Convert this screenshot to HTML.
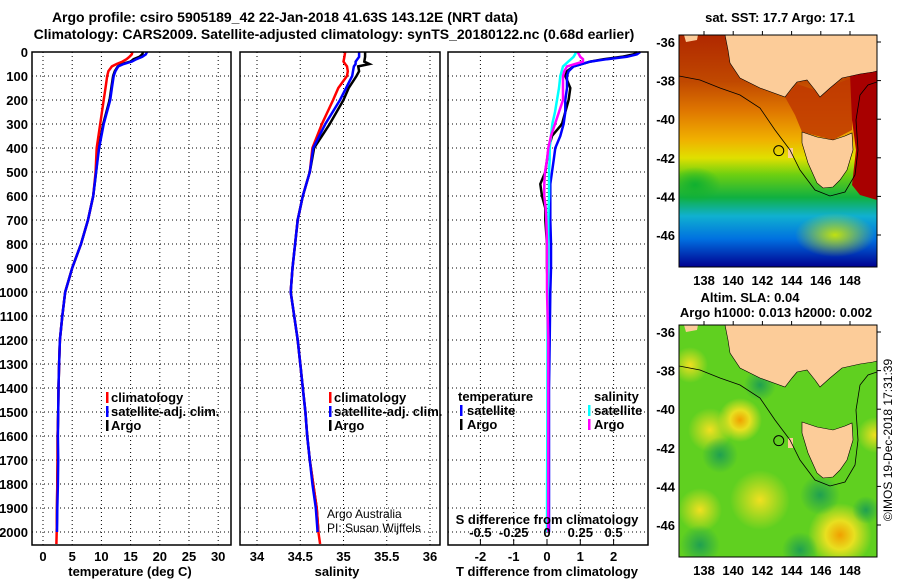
<!DOCTYPE html>
<html><head><meta charset="utf-8">
<style>
html,body{margin:0;padding:0;background:#fff;}
svg{display:block;font-family:"Liberation Sans",sans-serif;font-weight:bold;}
text{font-size:13px;fill:#000;}
</style></head>
<body>
<svg id="fig" width="900" height="580" viewBox="0 0 900 580">
<defs>
<linearGradient id="sstg" x1="0" y1="0" x2="0" y2="1">
<stop offset="0" stop-color="#b02800"/><stop offset="0.2" stop-color="#c04800"/>
<stop offset="0.33" stop-color="#e07800"/><stop offset="0.45" stop-color="#f0b000"/>
<stop offset="0.53" stop-color="#e0e000"/><stop offset="0.6" stop-color="#70d010"/>
<stop offset="0.7" stop-color="#10b040"/><stop offset="0.78" stop-color="#10b0d0"/>
<stop offset="0.88" stop-color="#0070e0"/><stop offset="1" stop-color="#000090"/>
</linearGradient>
<radialGradient id="blobY"><stop offset="0" stop-color="#f0a000"/><stop offset="0.45" stop-color="#e8e020"/><stop offset="1" stop-color="#e8e020" stop-opacity="0"/></radialGradient>
<radialGradient id="blobY2"><stop offset="0" stop-color="#f0e020"/><stop offset="1" stop-color="#f0e020" stop-opacity="0"/></radialGradient>
<radialGradient id="blobG"><stop offset="0" stop-color="#20a050"/><stop offset="1" stop-color="#20a050" stop-opacity="0"/></radialGradient>
<radialGradient id="blobYG"><stop offset="0" stop-color="#c0e010"/><stop offset="1" stop-color="#c0e010" stop-opacity="0"/></radialGradient>
<radialGradient id="blobGr"><stop offset="0" stop-color="#10b030"/><stop offset="1" stop-color="#10b030" stop-opacity="0"/></radialGradient>
<clipPath id="c1"><rect x="679" y="35" width="198" height="232"/></clipPath>
<clipPath id="c2"><rect x="679" y="325" width="198" height="232"/></clipPath>
</defs>
<g id="titles">
<text x="285" y="22" text-anchor="middle" style="font-size:14px">Argo profile: csiro 5905189_42 22-Jan-2018 41.63S 143.12E (NRT data)</text>
<text x="334" y="39" text-anchor="middle" style="font-size:14px">Climatology: CARS2009. Satellite-adjusted climatology: synTS_20180122.nc (0.68d earlier)</text>
</g>
<g id="plots"></g>
<g id="maps"></g>
<text transform="translate(892,440) rotate(-90)" text-anchor="middle" style="font-size:12px;font-weight:normal">©IMOS 19-Dec-2018 17:31:39</text>
</svg>
<script>
// ---- data ----
const tempDepth = [0,10,20,30,40,50,60,80,100,150,200,300,400,500,600,700,800,900,1000,1100,1200,1300,1400,1500,1600,1700,1800,1900,2000];
const tempArgo = [17.1,17.0,16.5,15.5,15.0,13.5,12.8,12.3,12.0,11.7,11.4,10.3,9.5,9.1,8.6,7.7,6.5,5.0,3.8,3.3,2.9,2.75,2.65,2.6,2.5,2.5,2.45,2.4,2.35];
const tempSat = [17.8,17.6,17.0,16.0,15.2,13.8,12.9,12.4,12.1,11.8,11.5,10.4,9.6,9.1,8.6,7.7,6.5,5.0,3.8,3.3,2.9,2.75,2.65,2.6,2.55,2.6,2.55,2.45,2.4];
const climDepth = [0,10,20,30,40,50,60,80,100,150,200,300,400,500,600,700,800,900,1000,1100,1200,1300,1400,1500,1600,1700,1800,1900,2000,2050];
const tempClim = [15.3,15.2,14.8,14.3,13.6,12.6,11.8,11.2,11.0,10.7,10.4,9.8,9.2,9.0,8.6,7.7,6.5,5.0,3.8,3.3,2.9,2.75,2.65,2.6,2.5,2.5,2.45,2.4,2.35,2.3];
const salDepth = [0,20,40,50,60,80,100,150,200,300,400,500,600,700,800,900,1000,1100,1200,1300,1400,1500,1600,1700,1800,1900,2000];
const salArgo = [35.25,35.25,35.24,35.3,35.17,35.18,35.15,35.06,35.0,34.84,34.66,34.61,34.53,34.47,34.44,34.41,34.39,34.43,34.47,34.5,34.53,34.56,34.58,34.61,34.65,34.69,34.71];
const salSat = [35.18,35.18,35.14,35.14,35.12,35.11,35.10,35.03,34.96,34.79,34.65,34.61,34.53,34.47,34.44,34.41,34.39,34.43,34.47,34.5,34.53,34.56,34.58,34.61,34.64,34.68,34.7];
const salClimDepth = [0,20,40,50,60,80,100,150,200,300,400,500,600,700,800,900,1000,1100,1200,1300,1400,1500,1600,1700,1800,1900,2000,2050];
const salClim = [35.02,35.01,35.0,35.02,35.04,35.05,35.04,34.94,34.88,34.75,34.64,34.61,34.53,34.47,34.44,34.41,34.39,34.43,34.47,34.5,34.53,34.56,34.58,34.61,34.65,34.69,34.71,34.73];
const diffDepth = [0,10,20,30,40,60,80,100,150,200,250,300,350,400,450,500,550,600,650,700,800,900,1000,1200,1400,1600,1800,2000];
const dTArgo = [2.7,2.6,2.25,1.7,1.3,0.8,0.6,0.55,0.7,0.65,0.55,0.45,0.15,0.05,0,-0.05,-0.2,-0.15,-0.05,-0.05,0,0,0.03,0.05,0.05,0.05,0.05,0.05];
const dTSat = [2.8,2.7,2.4,1.8,1.3,0.8,0.65,0.6,0.6,0.55,0.55,0.5,0.4,0.25,0.2,0.15,0.1,0.1,0.1,0.1,0.12,0.12,0.1,0.08,0.06,0.06,0.06,0.06];
const dSSat = [0.22,0.21,0.2,0.18,0.16,0.12,0.11,0.1,0.09,0.075,0.06,0.04,0.03,0.02,0.02,0.015,0.015,0.015,0.012,0.01,0.01,0.008,0.005,0.004,0.003,0.002,0.001,0.0];
const dSArgo = [0.23,0.24,0.25,0.27,0.27,0.15,0.13,0.12,0.12,0.12,0.09,0.06,0.03,0.01,0,-0.015,-0.02,-0.02,-0.01,-0.005,0,0,0,0.01,0.01,0.01,0.01,0.01];
const depthTicks = [0,100,200,300,400,500,600,700,800,900,1000,1100,1200,1300,1400,1500,1600,1700,1800,1900,2000];
const tempTicks = [0,5,10,15,20,25,30];
const salTicks = [34,34.5,35,35.5,36];
const salTickLabels = ["34","34.5","35","35.5","36"];
const dTTicks = [-2,-1,0,1,2];
const dSTicks = [-0.5,-0.25,0,0.25,0.5];
const dSTickLabels = ["-0.5","-0.25","0","0.25","0.5"];
const latTicks = [-36,-38,-40,-42,-44,-46];
const lonTicks = [138,140,142,144,146,148];
const argoLon = 143.12, argoLat = -41.63;

// ---- scales ----
const Y0 = 52, Y1 = 545;
const yD = d => Y0 + d * 0.24;
const xT = t => 43 + t * 5.84;
const xS = s => 257 + (s - 34) * 86.5;
const xDT = t => 547 + t * 33.3;
const xDS = s => 547 + s * 133.2;
const NS = "http://www.w3.org/2000/svg";
const plots = document.getElementById('plots');
function mk(tag, attrs, parent){const e=document.createElementNS(NS,tag);for(const k in attrs)e.setAttribute(k,attrs[k]);(parent||plots).appendChild(e);return e;}

function panel(name, x0, x1, xticks, xf){
  const g = mk('g',{});
  
  
  depthTicks.forEach(d=>{ const l=mk('line',{x1:x0,x2:x1,y1:yD(d),y2:yD(d),stroke:'#000','stroke-width':1,'stroke-dasharray':'1 3'},g);
    
     });
  xticks.forEach(v=>{ const l=mk('line',{x1:xf(v),x2:xf(v),y1:Y0,y2:Y1,stroke:'#000','stroke-width':1,'stroke-dasharray':'1 3'},g);
    
     });
  return g;
}
function frame(g,x0,x1){const r=mk('rect',{x:x0,y:Y0,width:x1-x0,height:Y1-Y0,fill:'none',stroke:'#000','stroke-width':1.5},g);
  
  }
function line(g, name, depths, vals, xf, color, w){
  const pts = vals.map((v,i)=>xf(v).toFixed(1)+','+yD(depths[i]).toFixed(1)).join(' ');
  const p = mk('polyline',{points:pts,fill:'none',stroke:color,'stroke-width':w||2.5,'stroke-linejoin':'miter'},g);
  
  
}
function txt(g, name, x, y, s, anchor, extra){
  const t = mk('text',Object.assign({x:x,y:y,'text-anchor':anchor||'start'},extra||{}),g);
  t.textContent = s;
  
  
  return t;
}
function legBar(g, x, y, color){const r=mk('rect',{x:x,y:y-10,width:2.5,height:11,fill:color},g);
  
  }

const yl = mk('g',{});


depthTicks.forEach(d=>txt(yl,'depth-tick-label',28,yD(d)+5,String(d),'end'));

const g1 = panel('temperature-panel',32,231,tempTicks,xT);
line(g1,'temp-argo-line',tempDepth,tempArgo,xT,'#000');
line(g1,'temp-clim-line',climDepth,tempClim,xT,'#f00');
line(g1,'temp-sat-line',tempDepth,tempSat,xT,'#00f');
frame(g1,32,231);
tempTicks.forEach(v=>txt(g1,'temp-tick-label',xT(v),561,String(v),'middle'));
txt(g1,'temp-axis-title',130,576,'temperature (deg C)','middle');
legBar(g1,106,402,'#f00'); txt(g1,'legend-climatology',111,402,'climatology');
legBar(g1,106,416,'#00f'); txt(g1,'legend-satellite-adj',111,416,'satellite-adj. clim.');
legBar(g1,106,430,'#000'); txt(g1,'legend-argo',111,430,'Argo');

const g2 = panel('salinity-panel',240,440,salTicks,xS);
line(g2,'sal-argo-line',salDepth,salArgo,xS,'#000');
line(g2,'sal-clim-line',salClimDepth,salClim,xS,'#f00');
line(g2,'sal-sat-line',salDepth,salSat,xS,'#00f');
frame(g2,240,440);
salTicks.forEach((v,i)=>txt(g2,'sal-tick-label',xS(v),561,salTickLabels[i],'middle'));
txt(g2,'sal-axis-title',337,576,'salinity','middle');
legBar(g2,329,402,'#f00'); txt(g2,'legend-climatology',334,402,'climatology');
legBar(g2,329,416,'#00f'); txt(g2,'legend-satellite-adj',334,416,'satellite-adj. clim.');
legBar(g2,329,430,'#000'); txt(g2,'legend-argo',334,430,'Argo');
txt(g2,'credit-argo-australia',327,518,'Argo Australia','start',{style:'font-weight:normal;font-size:12px'});
txt(g2,'credit-pi',327,532,'PI: Susan Wijffels','start',{style:'font-weight:normal;font-size:12px'});

const g3 = panel('difference-panel',448,648,dTTicks,xDT);
line(g3,'dT-argo-line',diffDepth,dTArgo,xDT,'#000');
line(g3,'dT-sat-line',diffDepth,dTSat,xDT,'#00f');
line(g3,'dS-sat-line',diffDepth,dSSat,xDS,'#0ff');
line(g3,'dS-argo-line',diffDepth,dSArgo,xDS,'#f0f');
frame(g3,448,648);
dTTicks.forEach(v=>txt(g3,'dT-tick-label',xDT(v),561,String(v),'middle'));
txt(g3,'dT-axis-title',547,576,'T difference from climatology','middle');
dSTicks.forEach((v,i)=>{txt(g3,'dS-tick-label',xDS(v),537,dSTickLabels[i],'middle');
  const t=mk('line',{x1:xDS(v),x2:xDS(v),y1:Y1-6,y2:Y1,stroke:'#000'},g3);
  
  });
txt(g3,'dS-axis-title',547,524,'S difference from climatology','middle');
txt(g3,'legend-temperature-header',458,401,'temperature');
legBar(g3,460,415,'#00f'); txt(g3,'legend-t-satellite',467,415,'satellite');
legBar(g3,460,429,'#000'); txt(g3,'legend-t-argo',467,429,'Argo');
txt(g3,'legend-salinity-header',594,401,'salinity');
legBar(g3,588,415,'#0ff'); txt(g3,'legend-s-satellite',594,415,'satellite');
legBar(g3,588,429,'#f0f'); txt(g3,'legend-s-argo',594,429,'Argo');

// ---- maps ----
const maps = document.getElementById('maps');
const mx = lon => 704 + (lon - 138) * 14.6;
const my = (lat, top) => top + 7 + (-36 - lat) * 19.3;
const land = [[725,35],[728,50],[730,63],[740,78],[760,88],[785,97],[792,88],[797,82],[807,80],[815,90],[820,97],[830,88],[842,78],[860,74],[873,72],[877,71],[877,35]];
const tas = [[802,132],[817,137],[833,140],[845,136],[852,133],[853,150],[850,160],[847,170],[840,180],[833,187],[823,188],[817,183],[808,163],[802,143]];
const islandA = [[684,35],[698,35],[697,40],[686,42]];
const shelf = [[679,76],[700,80],[720,88],[740,95],[760,108],[775,130],[790,150],[800,170],[815,190],[830,196],[845,192],[855,175],[858,150],[856,120],[860,95],[868,85],[877,82]];
const eastWarm = [[850,74],[877,70],[877,200],[860,195],[852,185],[856,150],[852,120]];
const bassStrait = [[785,97],[797,84],[815,90],[830,86],[852,78],[852,130],[833,140],[802,132],[795,115]];
function ptsOff(arr,dy){return arr.map(p=>p[0]+','+(p[1]+dy)).join(' ');}
function drawMap(name, top, clip, isSST){
  const g = mk('g',{},maps);
  
  
  const dy = top - 35;
  const inner = mk('g',{'clip-path':'url(#'+clip+')'},g);
  if(isSST){
    mk('rect',{x:679,y:top,width:198,height:232,fill:'url(#sstg)'},inner);
    mk('polygon',{points:ptsOff(bassStrait,dy),fill:'#c03800',opacity:0.85},inner);
    mk('polygon',{points:ptsOff(eastWarm,dy),fill:'#a80000'},inner);
    mk('ellipse',{cx:695,cy:top+150,rx:26,ry:18,fill:'url(#blobGr)'},inner);
    mk('ellipse',{cx:835,cy:top+200,rx:40,ry:22,fill:'url(#blobYG)'},inner);
  } else {
    mk('rect',{x:679,y:top,width:198,height:232,fill:'#60d020'},inner);
    [[710,top+105,22,'blobY2'],[740,top+95,22,'blobY'],[760,top+175,30,'blobY2'],[840,top+210,32,'blobY'],[875,top+110,18,'blobY2'],[700,top+185,22,'blobY2'],[690,top+40,18,'blobY2']].forEach(b=>mk('circle',{cx:b[0],cy:b[1],r:b[2],fill:'url(#'+b[3]+')'},inner));
    [[720,top+130,18],[700,top+220,20],[760,top+60,16],[820,top+170,20],[800,top+225,18],[866,top+185,14]].forEach(b=>mk('circle',{cx:b[0],cy:b[1],r:b[2],fill:'url(#blobG)'},inner));
  }
  const l1=mk('polygon',{points:ptsOff(land,dy),fill:'#fccc99',stroke:'#000','stroke-width':0.6},inner);
  
  
  const l2=mk('polygon',{points:ptsOff(tas,dy),fill:'#fccc99',stroke:'#000','stroke-width':0.6},inner);
  
  
  mk('polygon',{points:ptsOff(islandA,dy),fill:'#fccc99'},inner);
  mk('rect',{x:788,y:top+113,width:5,height:10,fill:'#fccc99'},inner);
  mk('polyline',{points:ptsOff(shelf,dy),fill:'none',stroke:'#000','stroke-width':0.8},inner);
  const c=mk('circle',{cx:mx(argoLon),cy:my(argoLat,top),r:5,fill:'none',stroke:'#000','stroke-width':1},g);
  
  
  mk('rect',{x:679,y:top,width:198,height:232,fill:'none',stroke:'#000','stroke-width':1},g);
  latTicks.forEach(v=>{const yy=my(v,top); txt(g,'lat-tick-label',675,yy+5,String(v),'end');
    mk('line',{x1:877,x2:881,y1:yy,y2:yy,stroke:'#000'},g);});
  lonTicks.forEach(v=>{txt(g,'lon-tick-label',mx(v),top+250,String(v),'middle');
    mk('line',{x1:mx(v),x2:mx(v),y1:top-4,y2:top,stroke:'#000'},g);});
}
drawMap('sst-map',35,'c1',true);
drawMap('sla-map',325,'c2',false);
txt(maps,'sst-map-title',780,22,'sat. SST: 17.7 Argo: 17.1','middle');
txt(maps,'sla-map-title',750,302,'Altim. SLA: 0.04','middle');
txt(maps,'sla-map-subtitle',776,317,'Argo h1000: 0.013 h2000: 0.002','middle');
</script>
</body></html>
